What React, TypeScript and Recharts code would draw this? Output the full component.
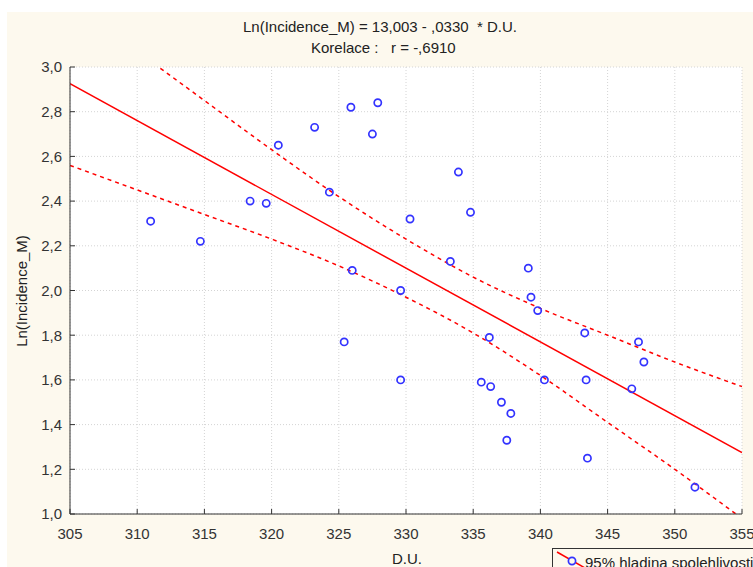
import React from 'react';
import { ComposedChart, XAxis, YAxis, CartesianGrid, Scatter, Line } from 'recharts';

const pointX = [311.0, 314.7, 318.4, 319.6, 320.5, 323.2, 324.3, 325.9, 327.9, 327.5, 330.3, 326.0, 333.9, 334.8, 333.3, 339.1, 339.3, 339.8, 336.2, 343.3, 347.3, 329.6, 325.4, 329.6, 335.6, 336.3, 337.1, 337.8, 337.5, 340.3, 343.4, 343.5, 347.7, 346.8, 351.5];
const pointY = [2.31, 2.22, 2.40, 2.39, 2.65, 2.73, 2.44, 2.82, 2.84, 2.70, 2.32, 2.09, 2.53, 2.35, 2.13, 2.10, 1.97, 1.91, 1.79, 1.81, 1.77, 2.00, 1.77, 1.60, 1.59, 1.57, 1.50, 1.45, 1.33, 1.60, 1.60, 1.25, 1.68, 1.56, 1.12];

const fitX = [305, 355];
const fitY = [2.925, 1.275];

const bandX = [305, 310, 315, 320, 325, 330, 335, 340, 345, 350, 355];
const upperY = [3.29, 3.07, 2.85, 2.63, 2.42, 2.23, 2.06, 1.92, 1.80, 1.68, 1.57];
const lowerY = [2.56, 2.45, 2.34, 2.23, 2.11, 1.97, 1.81, 1.62, 1.41, 1.20, 0.98];

const xTicks = [305, 310, 315, 320, 325, 330, 335, 340, 345, 350, 355];
const yTicks = [1.0, 1.2, 1.4, 1.6, 1.8, 2.0, 2.2, 2.4, 2.6, 2.8, 3.0];

const titleLine1 = 'Ln(Incidence_M) = 13,003 - ,0330  * D.U.';
const titleLine2 = 'Korelace :   r = -,6910';
const xLabel = 'D.U.';
const yLabel = 'Ln(Incidence_M)';
const legendLabel = '95% hladina spolehlivosti';

const points = pointX.map((x, i) => ({ x, y: pointY[i] }));
const fitData = fitX.map((x, i) => ({ x, y: fitY[i] }));
const upperData = bandX.map((x, i) => ({ x, y: upperY[i] }));
const lowerData = bandX.map((x, i) => ({ x, y: lowerY[i] }));

const FONT = '"Liberation Sans", Arial, sans-serif';
const tickStyle = { fontFamily: FONT, fontSize: 15, fill: '#333' };
const fmtY = (v: number) => v.toFixed(1).replace('.', ',');

const Ring = (props: any) => {
  const { cx, cy } = props;
  if (cx == null || cy == null) return null;
  return <circle cx={cx} cy={cy} r={3.6} fill="none" stroke="#3333ff" strokeWidth={1.7} />;
};

export default function App() {
  return (
    <div style={{ position: 'absolute', left: 0, top: 0, width: 753, height: 567, overflow: 'hidden', background: '#ffffff', fontFamily: FONT }}>
      <div style={{ position: 'absolute', left: 7, top: 12, right: 0, bottom: 0, background: '#fdf9ee' }} />
      <div style={{ position: 'absolute', left: 0, width: 753, top: 18, lineHeight: '18px', fontSize: 15, textAlign: 'center', color: '#222', whiteSpace: 'pre' }}>
        <div style={{ position: 'absolute', left: 243, top: 0 }}>{titleLine1}</div>
      </div>
      <div style={{ position: 'absolute', left: 0, width: 753, top: 39, lineHeight: '18px', fontSize: 15, color: '#222', whiteSpace: 'pre' }}>
        <div style={{ position: 'absolute', left: 311, top: 0 }}>{titleLine2}</div>
      </div>
      <div style={{ position: 'absolute', left: 0, top: 0 }}>
        <ComposedChart width={753} height={567} margin={{ top: 67, right: 11, bottom: 23, left: 10 }}>
          <CartesianGrid fill="#ffffff" stroke="#d4d4d4" strokeDasharray="1 2" horizontalValues={yTicks} verticalValues={xTicks} />
          <XAxis type="number" dataKey="x" domain={[305, 355]} ticks={xTicks} allowDataOverflow height={30}
            tickSize={-5} tickMargin={19} tick={tickStyle} stroke="#333" interval={0} />
          <XAxis xAxisId="top" orientation="top" type="number" dataKey="x" domain={[305, 355]} ticks={xTicks} allowDataOverflow height={0}
            tickSize={-5} tick={false} stroke="#333" interval={0} />
          <YAxis type="number" dataKey="y" domain={[1, 3]} ticks={yTicks} allowDataOverflow width={60}
            tickSize={-5} tickMargin={13} tick={tickStyle} tickFormatter={fmtY} stroke="#333" interval={0} />
          <YAxis yAxisId="right" orientation="right" type="number" dataKey="y" domain={[1, 3]} ticks={yTicks} allowDataOverflow width={0}
            tickSize={-5} tick={false} stroke="#333" interval={0} />
          <Line data={upperData} dataKey="y" type="monotone" stroke="#ff0000" strokeWidth={1.5} strokeDasharray="4 4" dot={false} activeDot={false} isAnimationActive={false} />
          <Line data={lowerData} dataKey="y" type="monotone" stroke="#ff0000" strokeWidth={1.5} strokeDasharray="4 4" dot={false} activeDot={false} isAnimationActive={false} />
          <Line data={fitData} dataKey="y" type="linear" stroke="#ff0000" strokeWidth={1.5} dot={false} activeDot={false} isAnimationActive={false} />
          <Scatter data={points} dataKey="y" shape={<Ring />} isAnimationActive={false} />
        </ComposedChart>
      </div>
      <div style={{ position: 'absolute', left: 0, top: 282, width: 44, height: 18, lineHeight: '18px', fontSize: 15, color: '#222', textAlign: 'center' }}>
        <div style={{ position: 'absolute', left: 22, top: 9, transform: 'translate(-50%, -50%) rotate(-90deg)', whiteSpace: 'nowrap' }}>{yLabel}</div>
      </div>
      <div style={{ position: 'absolute', left: 392, top: 550, lineHeight: '18px', fontSize: 15, color: '#222' }}>{xLabel}</div>
      <div style={{ position: 'absolute', left: 552, top: 548, width: 260, height: 40, border: '1px solid #333', background: '#fdf9ee' }}>
        <svg width={32} height={20} style={{ position: 'absolute', left: 2, top: 2 }}>
          <line x1={2} y1={1} x2={30} y2={17} stroke="#ff0000" strokeWidth={1.5} />
          <circle cx={17} cy={10} r={3.6} fill="#fdf9ee" stroke="#3333ff" strokeWidth={1.7} />
        </svg>
        <div style={{ position: 'absolute', left: 32, top: 5, lineHeight: '18px', fontSize: 15, color: '#222', whiteSpace: 'nowrap' }}>{legendLabel}</div>
      </div>
    </div>
  );
}
